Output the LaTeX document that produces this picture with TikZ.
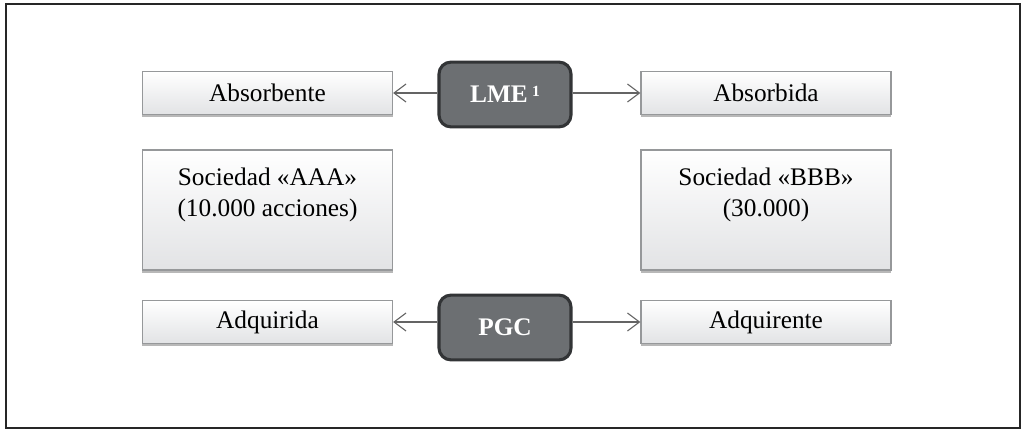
\documentclass[tikz,border=0pt]{standalone}
\usepackage{fontspec}
\setmainfont{Liberation Serif}
\usetikzlibrary{arrows.meta, positioning, shadows}
\definecolor{box_edge}{RGB}{150,152,154}
\definecolor{box_low}{RGB}{226,227,229}
\definecolor{key_fill}{RGB}{108,111,114}
\definecolor{key_edge}{RGB}{50,52,54}
\definecolor{link_gray}{RGB}{100,100,100}
\tikzset{
    entity/.style={
        draw=box_edge, line width=0.8pt,
        top color=white, bottom color=box_low,
        minimum width=6.25cm, minimum height=1.08cm,
        inner sep=0pt, align=center,
        font=\fontsize{18}{22}\selectfont,
        drop shadow={shadow xshift=0pt, shadow yshift=-0.07cm,
            fill=gray!70, opacity=0.8}
    },
    bigentity/.style={entity, minimum height=3cm},
    lawkey/.style={
        draw=key_edge, line width=2.2pt, fill=key_fill,
        rounded corners=0.3cm, text=white,
        minimum width=3.3cm, minimum height=1.62cm,
        font=\fontsize{18}{22}\selectfont\bfseries
    },
    link/.style={draw=link_gray, line width=0.8pt,
        -{Straight Barb[length=0.3cm, width=0.45cm, line width=0.8pt]}}
}
\begin{document}
\begin{tikzpicture}[x=0.025cm, y=-0.025cm]
    \useasboundingbox (0,0) rectangle (1022,431);
    % marco exterior
    \draw[line width=0.9pt, black!85] (6,4) rectangle (1020,428);
    % fila superior
    \node[entity] (absorbente) at (267.5,93) {Absorbente};
    \node[lawkey] (lme) at (505,94.5) {LME\,\raisebox{0.5ex}{\fontsize{11}{12}\selectfont 1}};
    \node[entity] (absorbida) at (766,93) {Absorbida};
    % sociedades
    \node[bigentity] (soca) at (267.5,210) {Sociedad «AAA»\\(10.000 acciones)\\[0.1cm]\mbox{}};
    \node[bigentity] (socb) at (766,210) {Sociedad «BBB»\\(30.000)\\[0.1cm]\mbox{}};
    % fila inferior
    \node[entity] (adquirida) at (267.5,322) {Adquirida};
    \node[lawkey] (pgc) at (505,327.5) {PGC};
    \node[entity] (adquirente) at (766,322) {Adquirente};
    % flechas
    \draw[link] (lme.west |- absorbente.east) -- (absorbente.east);
    \draw[link] (lme.east |- absorbida.west) -- (absorbida.west);
    \draw[link] (pgc.west |- adquirida.east) -- (adquirida.east);
    \draw[link] (pgc.east |- adquirente.west) -- (adquirente.west);
\end{tikzpicture}
\end{document}
